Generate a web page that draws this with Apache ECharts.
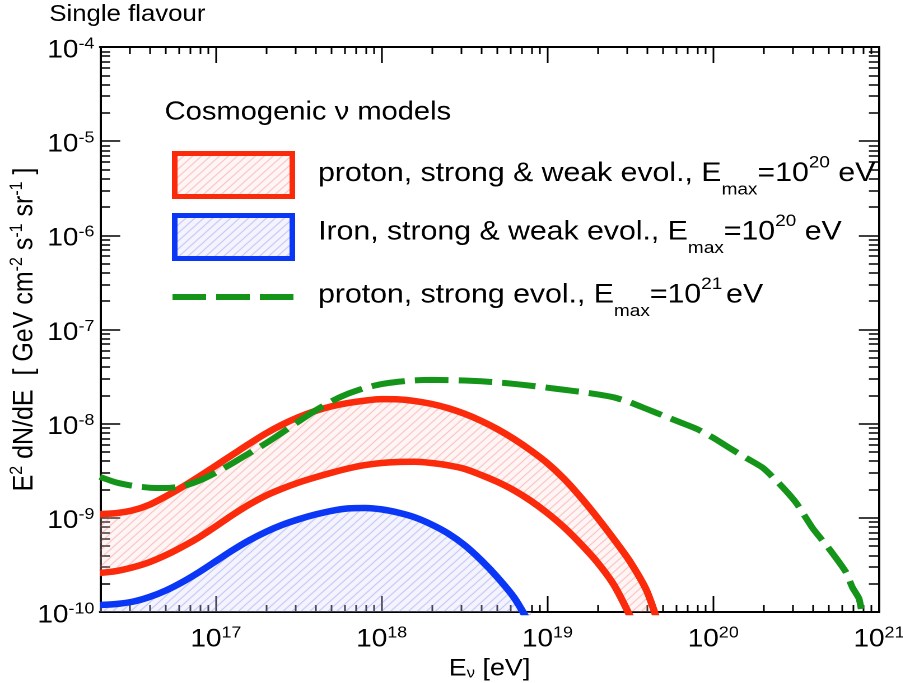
<!DOCTYPE html>
<html>
<head>
<meta charset="UTF-8">
<title>Cosmogenic neutrino models</title>
<script src="https://cdn.jsdelivr.net/npm/echarts@6/dist/echarts.min.js"></script>
<style>
	* { margin: 0; padding: 0; }
	body { background: #fff; width: 903px; height: 683px; overflow: hidden; }
	/* the original figure is stretched sideways a little, so draw at 806px and widen */
	#main { width: 806px; height: 683px; transform: scale(1.12, 1); transform-origin: 0 0; }
</style>
</head>
<body>
<div id="main"></div>
<script>
// pairs of [log10 E/eV, log10 (E^2 dN/dE / GeV cm^-2 s^-1 sr^-1)]
var protonUpper = [[16.3, -8.96], [16.4, -8.95], [16.5, -8.92], [16.6, -8.86], [16.7, -8.77], [16.8, -8.67],
	[16.9, -8.56], [17.0, -8.445], [17.1, -8.33], [17.2, -8.215], [17.3, -8.105], [17.4, -8.01], [17.5, -7.93],
	[17.6, -7.865], [17.7, -7.815], [17.8, -7.78], [17.9, -7.755], [18.0, -7.74], [18.1, -7.742], [18.2, -7.76],
	[18.3, -7.79], [18.4, -7.835], [18.5, -7.895], [18.6, -7.97], [18.7, -8.06], [18.8, -8.165], [18.9, -8.285],
	[19.0, -8.42], [19.1, -8.585], [19.2, -8.78], [19.3, -8.995], [19.4, -9.225], [19.5, -9.47], [19.6, -9.78],
	[19.7, -10.3]];
var protonLower = [[16.3, -9.585], [16.4, -9.565], [16.5, -9.525], [16.6, -9.47], [16.7, -9.395], [16.8, -9.305],
	[16.9, -9.205], [17.0, -9.09], [17.1, -8.97], [17.2, -8.86], [17.3, -8.765], [17.4, -8.69], [17.5, -8.625],
	[17.6, -8.57], [17.7, -8.52], [17.8, -8.475], [17.9, -8.44], [18.0, -8.418], [18.1, -8.407], [18.2, -8.405],
	[18.3, -8.418], [18.4, -8.442], [18.5, -8.48], [18.6, -8.545], [18.7, -8.62], [18.8, -8.71], [18.9, -8.82],
	[19.0, -8.95], [19.1, -9.1], [19.2, -9.275], [19.3, -9.47], [19.4, -9.71], [19.5, -10.05]];
var ironUpper = [[16.3, -9.925], [16.4, -9.915], [16.5, -9.89], [16.6, -9.84], [16.7, -9.77], [16.8, -9.68],
	[16.9, -9.575], [17.0, -9.46], [17.1, -9.345], [17.2, -9.24], [17.3, -9.15], [17.4, -9.075], [17.5, -9.015],
	[17.6, -8.965], [17.7, -8.925], [17.8, -8.9], [17.9, -8.895], [18.0, -8.91], [18.1, -8.945], [18.2, -8.995],
	[18.3, -9.07], [18.4, -9.165], [18.5, -9.29], [18.6, -9.45], [18.7, -9.635], [18.8, -9.85], [18.9, -10.15]];
var protonStrong = [[16.3, -8.565], [16.4, -8.625], [16.5, -8.66], [16.6, -8.68], [16.7, -8.683], [16.8, -8.665],
	[16.9, -8.605], [17.0, -8.52], [17.1, -8.42], [17.2, -8.315], [17.3, -8.21], [17.4, -8.095], [17.5, -7.975],
	[17.6, -7.86], [17.7, -7.76], [17.8, -7.68], [17.9, -7.62], [18.0, -7.58], [18.1, -7.555], [18.2, -7.54],
	[18.3, -7.535], [18.4, -7.537], [18.5, -7.542], [18.6, -7.55], [18.7, -7.562], [18.8, -7.578], [18.9, -7.597],
	[19.0, -7.618], [19.1, -7.64], [19.2, -7.662], [19.3, -7.688], [19.4, -7.72], [19.5, -7.775], [19.6, -7.845],
	[19.7, -7.915], [19.8, -7.985], [19.9, -8.055], [20.0, -8.15], [20.1, -8.26], [20.2, -8.365], [20.3, -8.47],
	[20.4, -8.64], [20.5, -8.84], [20.6, -9.11], [20.7, -9.33], [20.8, -9.575], [20.84, -9.74], [20.88, -9.86],
	[20.9, -10.05]];

var xTickExp = [17, 18, 19, 20, 21];
var yTickExp = [-10, -9, -8, -7, -6, -5, -4];
var legendNames = [
	'proton, strong & weak evol., ',
	'Iron, strong & weak evol., ',
	'proton, strong evol., '
];
var legendEmax = ['20', '20', '21'];

var X_MIN = Math.log10(2e16), X_MAX = 21;
var Y_MIN = -10, Y_MAX = -4;
var RED = '#fa2a0a', BLUE = '#0a36f5', GREEN = '#15941a';
var FONT = '"Liberation Sans", Arial, Helvetica, sans-serif';

function minorTicks(lo, hi) {
	var out = [];
	for (var n = Math.floor(lo); n < hi; n++) {
		for (var k = 2; k <= 9; k++) {
			var v = n + Math.log10(k);
			if (v > lo && v < hi) out.push(v);
		}
	}
	return out;
}

function hatch(lineColor, bgColor) {
	var c = document.createElement('canvas');
	c.width = 8; c.height = 8;
	var g = c.getContext('2d');
	g.fillStyle = bgColor;
	g.fillRect(0, 0, 8, 8);
	g.strokeStyle = lineColor;
	g.lineWidth = 0.9;
	g.beginPath();
	g.moveTo(-1, 9); g.lineTo(9, -1);
	g.moveTo(-1, 1); g.lineTo(1, -1);
	g.moveTo(7, 9); g.lineTo(9, 7);
	g.stroke();
	return { image: c, repeat: 'repeat' };
}

var redHatch = hatch('rgba(235,90,90,0.55)', 'rgba(255,215,215,0.25)');
var blueHatch = hatch('rgba(100,100,225,0.55)', 'rgba(220,220,255,0.3)');

var tickRich = {
	b: { fontSize: 25, fontFamily: FONT, color: '#000', lineHeight: 29 },
	s: { fontSize: 16, fontFamily: FONT, color: '#000', verticalAlign: 'top', lineHeight: 16 }
};
function powLabel(v) {
	return '{b|10}{s|' + Math.round(v) + '}';
}

function xAxisOf(pos, ticks, len, withLabel, name) {
	var ax = {
		type: 'value', position: pos, min: X_MIN, max: X_MAX,
		axisLine: { show: true, onZero: false, lineStyle: { color: '#000', width: 2 } },
		axisTick: { show: true, inside: true, length: len, customValues: ticks, lineStyle: { color: '#000', width: 1.5 } },
		axisLabel: { show: false },
		splitLine: { show: false }
	};
	if (withLabel) {
		ax.axisLabel = { show: true, customValues: xTickExp, margin: 13, hideOverlap: false, formatter: powLabel, rich: tickRich };
		ax.name = name;
		ax.nameLocation = 'middle';
		ax.nameMoveOverlap = false;
		ax.nameGap = 45;
		ax.nameTextStyle = {
			rich: {
				t: { fontSize: 24, fontFamily: FONT, color: '#000' },
				u: { fontSize: 15, fontFamily: FONT, color: '#000', verticalAlign: 'bottom' }
			}
		};
	}
	return ax;
}

function yAxisOf(pos, ticks, len, withLabel, name) {
	var ax = {
		type: 'value', position: pos, min: Y_MIN, max: Y_MAX, interval: 1,
		axisLine: { show: true, onZero: false, lineStyle: { color: '#000', width: 2 } },
		axisTick: { show: true, inside: true, length: len, customValues: ticks, lineStyle: { color: '#000', width: 1.5 } },
		axisLabel: { show: false },
		splitLine: { show: false }
	};
	if (withLabel) {
		ax.axisLabel = { show: true, customValues: yTickExp, margin: 5, padding: [7, 0, 0, 0], hideOverlap: false, formatter: powLabel, rich: tickRich };
		ax.name = name;
		ax.nameLocation = 'middle';
		ax.nameMoveOverlap = false;
		ax.nameRotate = 90;
		ax.nameGap = 52;
		ax.nameTextStyle = {
			rich: {
				t: { fontSize: 25, fontFamily: FONT, color: '#000', lineHeight: 30 },
				s: { fontSize: 16, fontFamily: FONT, color: '#000', verticalAlign: 'top', lineHeight: 16 }
			}
		};
	}
	return ax;
}

var xMinor = minorTicks(X_MIN, X_MAX);
var yMinor = minorTicks(Y_MIN, Y_MAX);

var legendRich = {
	r: { fontSize: 27, fontFamily: FONT, color: '#000', lineHeight: 50 },
	sub: { fontSize: 17, fontFamily: FONT, color: '#000', verticalAlign: 'bottom' },
	sup: { fontSize: 17, fontFamily: FONT, color: '#000', verticalAlign: 'top', padding: [6, 0, 0, 0] }
};
function legendText(i) {
	var tail = i === 2 ? '{r|=10}{sup|' + legendEmax[i] + '} {r|eV}' : '{r|=10}{sup|' + legendEmax[i] + '}{r| eV}';
	return '{r|' + legendNames[i] + 'E}{sub|max}' + tail;
}

var chart = echarts.init(document.getElementById('main'), null, { devicePixelRatio: 2 });

var option = {
	animation: false,
	backgroundColor: '#fff',
	grid: { left: 89.3, right: 21.2, top: 47, bottom: 71, outerBoundsMode: 'none' },
	xAxis: [
		xAxisOf('bottom', xTickExp, 16, true, '{t|E}{u|ν}{t| [eV]}'),
		xAxisOf('bottom', xMinor, 7, false),
		xAxisOf('top', xTickExp, 16, false),
		xAxisOf('top', xMinor, 7, false)
	],
	yAxis: [
		yAxisOf('left', yTickExp, 18, true,
			'{t|E}{s|2}{t| dN/dE  [ GeV cm}{s|-2}{t| s}{s|-1}{t| sr}{s|-1}{t| ]}'),
		yAxisOf('left', yMinor, 9, false),
		yAxisOf('right', yTickExp, 18, false),
		yAxisOf('right', yMinor, 9, false)
	],
	series: [
		{
			// hatched band between the two proton curves
			type: 'custom', name: 'proton band', xAxisIndex: 0, yAxisIndex: 0, z: 1, silent: true, clip: true,
			data: [[17, -9]],
			renderItem: function (params, api) {
				var pts = [];
				protonUpper.forEach(function (p) { pts.push(api.coord(p)); });
				protonLower.slice().reverse().forEach(function (p) { pts.push(api.coord(p)); });
				return { type: 'polygon', shape: { points: pts }, style: { fill: redHatch } };
			}
		},
		{
			type: 'line', name: 'Iron', data: ironUpper, smooth: 0.3, symbol: 'none', z: 2, clip: true,
			lineStyle: { color: BLUE, width: 6.5 },
			areaStyle: { color: blueHatch, opacity: 1, origin: 'start' }
		},
		{
			type: 'line', name: 'proton upper', data: protonUpper, smooth: 0.3, symbol: 'none', z: 3, clip: true,
			lineStyle: { color: RED, width: 6.5 }
		},
		{
			type: 'line', name: 'proton lower', data: protonLower, smooth: 0.3, symbol: 'none', z: 3, clip: true,
			lineStyle: { color: RED, width: 6.5 }
		},
		{
			type: 'line', name: 'proton strong', data: protonStrong, smooth: 0.2, symbol: 'none', z: 4, clip: true,
			lineStyle: { color: GREEN, width: 6, type: [30, 9], cap: 'butt' }
		}
	],
	graphic: [
		{ type: 'text', x: 44, y: 14.5, style: { text: 'Single flavour', font: '23px ' + FONT, fill: '#000', verticalAlign: 'middle' } },
		{ type: 'text', x: 147, y: 112.5, style: { text: 'Cosmogenic ν models', font: '26px ' + FONT, fill: '#000', verticalAlign: 'middle' } },
		{ type: 'rect', shape: { x: 156, y: 153.5, width: 105, height: 43 }, style: { fill: redHatch, stroke: RED, lineWidth: 5 } },
		{ type: 'rect', shape: { x: 156, y: 215.5, width: 105, height: 43 }, style: { fill: blueHatch, stroke: BLUE, lineWidth: 5 } },
		{ type: 'line', shape: { x1: 154, y1: 297, x2: 263, y2: 297 }, style: { stroke: GREEN, lineWidth: 6, lineDash: [30, 9] } },
		{ type: 'text', x: 284, y: 173.5, style: { text: legendText(0), rich: legendRich, verticalAlign: 'middle' } },
		{ type: 'text', x: 284, y: 232, style: { text: legendText(1), rich: legendRich, verticalAlign: 'middle' } },
		{ type: 'text', x: 284, y: 295, style: { text: legendText(2), rich: legendRich, verticalAlign: 'middle' } }
	]
};
chart.setOption(option);
</script>
</body>
</html>
